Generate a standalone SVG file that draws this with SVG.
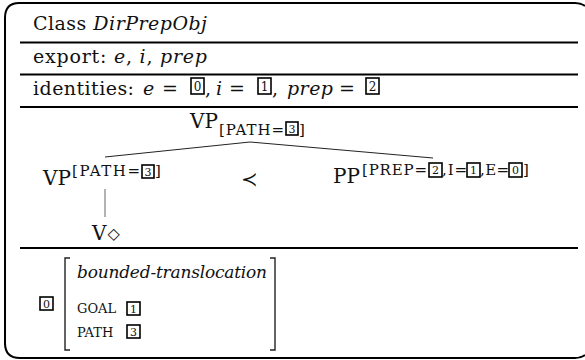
<svg xmlns="http://www.w3.org/2000/svg" width="585" height="360" viewBox="0 0 585 360">
<style>
  text { font-family: "DejaVu Serif", "Liberation Serif", serif; fill: #111; }
  .t { font-size: 19px; }
  .it { font-style: italic; }
  .big { font-size: 20px; }
  .sup { font-size: 15px; }
  .sc { font-size: 13px; }
  .bd { font-size: 11px; text-anchor: middle; }
  .bd2 { font-size: 12px; text-anchor: middle; }
  .b { fill: none; stroke: #000; stroke-width: 1.6; }
  .rule { stroke: #000; stroke-width: 2; }
  .frame { fill: none; stroke: #000; stroke-width: 2; }
  .edge { fill: none; stroke: #222; stroke-width: 1; }
  .brk { fill: none; stroke: #222; stroke-width: 1.4; }
  .sym { font-family: "DejaVu Sans", sans-serif; }
</style>

<g id="frame">
  <path class="frame" d="M5,345 V18 Q5,3 19,3 H575 Q581,3 585,6"/>
  <path class="frame" d="M5,343 Q5,358 20,358 H575 Q581,358 585,355"/>
  <line class="rule" x1="20" y1="42.5" x2="578" y2="42.5"/>
  <line class="rule" x1="20" y1="74.5" x2="578" y2="74.5"/>
  <line class="rule" x1="20" y1="107" x2="578" y2="107"/>
  <line class="rule" x1="20" y1="248" x2="578" y2="248"/>
</g>

<g id="class-row">
  <text class="t" x="33" y="30" textLength="174">Class <tspan class="it">DirPrepObj</tspan></text>
</g>

<g id="export-row">
  <text class="t" x="33" y="62.5" textLength="174">export: <tspan class="it">e</tspan>, <tspan class="it">i</tspan>, <tspan class="it">prep</tspan></text>
</g>

<g id="identities-row">
  <text class="t" x="33" y="95" textLength="101">identities:</text>
  <text class="t it" x="143" y="95">e</text>
  <text class="t" x="162" y="95">=</text>
  <rect class="b" x="191" y="78" width="13" height="16"/>
  <text class="bd2" x="197.5" y="91">0</text>
  <text class="t" x="205" y="95">,</text>
  <text class="t it" x="216" y="95">i</text>
  <text class="t" x="229" y="95">=</text>
  <rect class="b" x="258" y="78" width="13" height="16"/>
  <text class="bd2" x="264.5" y="91">1</text>
  <text class="t" x="272" y="95">,</text>
  <text class="t it" x="287" y="95" textLength="46">prep</text>
  <text class="t" x="339" y="95">=</text>
  <rect class="b" x="366" y="78" width="13" height="16"/>
  <text class="bd2" x="372.5" y="91">2</text>
</g>

<g id="connectors">
  <path class="edge" d="M105,157 L250,142 L433,158"/>
  <line x1="105" y1="189" x2="105" y2="217" stroke="#666" stroke-width="1"/>
</g>

<g id="vp-root">
  <text class="big" x="190" y="128">VP</text>
  <text class="sup" x="219" y="135" textLength="65">[PATH=</text>
  <rect class="b" x="286" y="122" width="12" height="13"/>
  <text class="bd" x="292" y="132.5">3</text>
  <text class="sup" x="299" y="135">]</text>
</g>

<g id="vp-left">
  <text class="big" x="43" y="185">VP</text>
  <text class="sup" x="72" y="176" textLength="68">[PATH=</text>
  <rect class="b" x="142" y="165" width="12" height="13"/>
  <text class="bd" x="148" y="175.5">3</text>
  <text class="sup" x="155" y="176">]</text>
</g>

<g id="precedes">
  <text class="big sym" x="249" y="186" text-anchor="middle" font-weight="300">≺</text>
</g>

<g id="pp">
  <text class="big" x="333" y="183">PP</text>
  <text class="sup" x="362" y="175" textLength="65">[PREP=</text>
  <rect class="b" x="429" y="163" width="13" height="14"/>
  <text class="bd" x="435.5" y="174">2</text>
  <text class="sup" x="442" y="175" textLength="25">,I=</text>
  <rect class="b" x="467" y="163" width="13" height="14"/>
  <text class="bd" x="473.5" y="174">1</text>
  <text class="sup" x="480" y="175" textLength="29">,E=</text>
  <rect class="b" x="509" y="163" width="13" height="14"/>
  <text class="bd" x="515.5" y="174">0</text>
  <text class="sup" x="523" y="175">]</text>
</g>

<g id="v-leaf">
  <text class="big" x="92" y="240">V<tspan class="sym" font-size="16" dx="1" dy="-1">◇</tspan></text>
</g>

<g id="avm">
  <rect class="b" x="40" y="297" width="13" height="13"/>
  <text class="bd" x="46.5" y="307.5">0</text>
  <path class="brk" d="M70,258 H65 V350 H70"/>
  <path class="brk" d="M270,258 H275 V350 H270"/>
  <text class="it" font-size="17" x="77" y="278" textLength="190">bounded-translocation</text>
  <text class="sc" x="77" y="313">GOAL</text>
  <rect class="b" x="127" y="302" width="13" height="13"/>
  <text class="bd" x="133.5" y="312.5">1</text>
  <text class="sc" x="77" y="337">PATH</text>
  <rect class="b" x="127" y="325" width="13" height="13"/>
  <text class="bd" x="133.5" y="335.5">3</text>
</g>
</svg>
